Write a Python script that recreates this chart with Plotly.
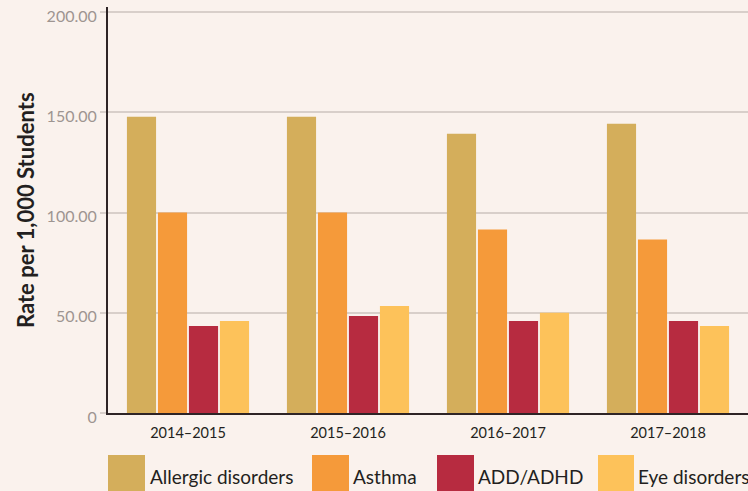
import plotly.graph_objects as go

years = ["2014–2015", "2015–2016", "2016–2017", "2017–2018"]
allergic = [147.8, 147.8, 139.3, 144.3]
asthma = [100.0, 100.0, 91.5, 86.5]
add_adhd = [43.4, 48.4, 45.9, 45.9]
eye = [45.9, 53.4, 50.0, 43.4]

series_names = ["Allergic disorders", "Asthma", "ADD/ADHD", "Eye disorders"]
series_vals = [allergic, asthma, add_adhd, eye]
colors = ["#D4AE5B", "#F59A3A", "#B72B40", "#FDC25A"]

tick_vals = [0, 50, 100, 150, 200]
tick_text = ["0", "50.00", "100.00", "150.00", "200.00"]

BG = "#FAF2ED"
FONT = "Lato"

W, H = 748, 491
ML, MR, MT, MB = 108, 0, 7, 78
PW = W - ML - MR
PH = H - MT - MB

fig = go.Figure()
for name, vals, c in zip(series_names, series_vals, colors):
    fig.add_trace(go.Bar(x=years, y=vals, name=name, marker=dict(color=c, line=dict(width=0)),
                         showlegend=False))

def px_x(p):
    return (p - ML) / PW

def px_y(p):
    return (H - MB - p) / PH

shapes = []
annotations = []
sw = [(108, 145, 148), (312, 349, 351), (437, 474, 476), (598, 634, 636)]
for (x0, x1, tx), name, c in zip(sw, series_names, colors):
    shapes.append(dict(type="rect", xref="paper", yref="paper",
                       x0=px_x(x0), x1=px_x(x1), y0=px_y(500), y1=px_y(455),
                       fillcolor=c, line=dict(width=0), layer="above"))
    annotations.append(dict(xref="paper", yref="paper", x=px_x(tx), y=px_y(476),
                            xanchor="left", yanchor="middle", text=name, showarrow=False,
                            font=dict(family=FONT, size=19, color="#231F20")))

annotations.append(dict(xref="paper", yref="paper", x=px_x(25), y=px_y(210),
                        xanchor="center", yanchor="middle", text="<b>Rate per 1,000 Students</b>",
                        textangle=-90, showarrow=False,
                        font=dict(family=FONT, size=22, color="#231F20")))

fig.update_layout(
    width=W, height=H,
    margin=dict(l=ML, r=MR, t=MT, b=MB, pad=0, autoexpand=False),
    paper_bgcolor=BG, plot_bgcolor=BG,
    barmode="group", bargap=0.225, bargroupgap=0.06,
    font=dict(family=FONT, color="#231F20"),
    shapes=shapes, annotations=annotations,
    xaxis=dict(showgrid=False, showline=True, linecolor="#2E2426", linewidth=2,
               ticks="", tickfont=dict(family=FONT, size=14.5, color="#231F20"),
               ticklabelstandoff=6, automargin=False),
    yaxis=dict(range=[0, 202.5], tickvals=tick_vals, ticktext=tick_text,
               showgrid=True, gridcolor="#D8CFCA", gridwidth=1.5,
               showline=True, linecolor="#2E2426", linewidth=2,
               ticks="outside", ticklen=6, tickcolor="#D8CFCA", tickwidth=1.5,
               tickfont=dict(family=FONT, size=16, color="#9E9591"),
               ticklabelshift=4, ticklabeloverflow="allow", zeroline=False,
               automargin=False),
)

fig.write_html("out.html", config={"displayModeBar": False},
               post_script="document.body.style.margin='0';document.body.style.padding='0';")
